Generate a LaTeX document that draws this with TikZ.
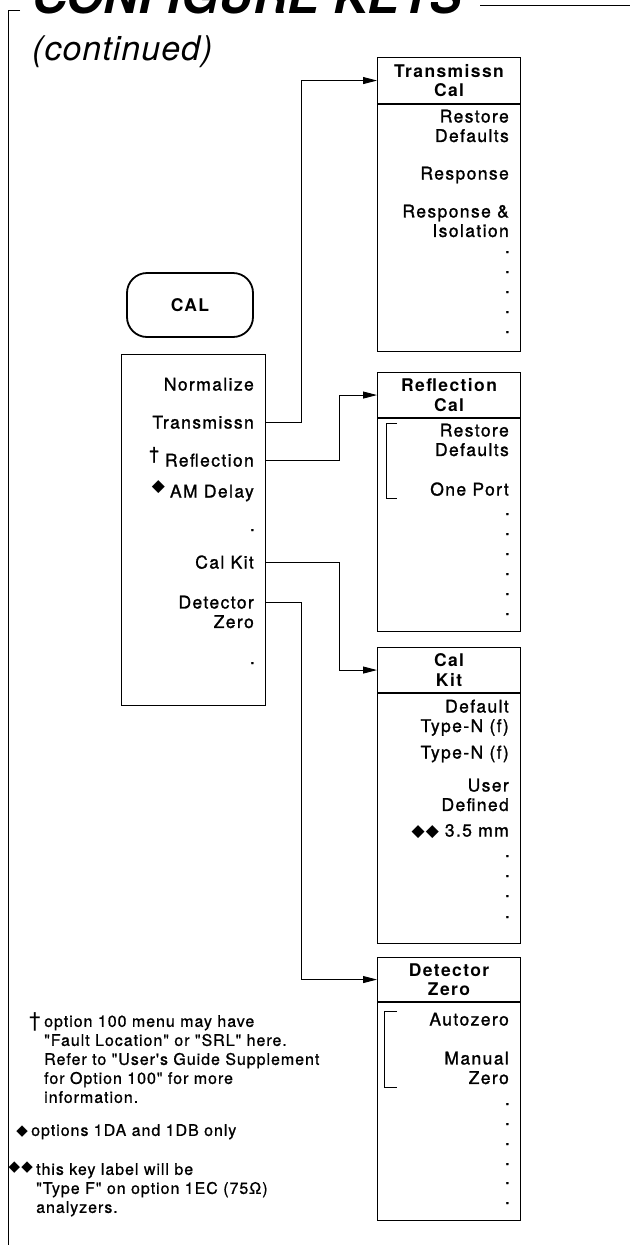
\documentclass[tikz,border=0pt]{standalone}
\usepackage{fontspec}
\setmainfont{TeX Gyre Heros}
\newfontfamily\keyfam{TeX Gyre Heros}[LetterSpace=8, UprightFeatures={FakeBold=1.3}]
\newfontfamily\notefam{TeX Gyre Heros}[LetterSpace=6, UprightFeatures={FakeBold=0.8}]
\newfontfamily\symfam{DejaVu Sans}
\usetikzlibrary{positioning,arrows.meta}
\newcommand\keyfont{\keyfam\fontsize{17.5}{19.5}\selectfont}
\newcommand\notefont{\notefam\fontsize{16}{19}\selectfont}
\newcommand\diam[1][17]{{\symfam\fontsize{#1}{#1}\selectfont ◆}}

\begin{document}
\begin{tikzpicture}[
  x=1pt, y=-1pt,
  menu/.style={draw, line width=1.1pt, inner sep=0pt, minimum width=143pt, anchor=north west},
  head/.style={menu, font=\keyfont\bfseries, align=center},
  key/.style={anchor=base east, inner sep=0pt, font=\keyfont, align=right},
  dotkey/.style={anchor=base east, inner sep=0pt, font=\keyfont},
  note/.style={anchor=north west, inner sep=0pt, font=\notefont, align=left},
  brace/.style={line width=0.8pt},
  arrow/.style={-{Triangle[length=14pt,width=7pt]}, line width=0.9pt}
]
\useasboundingbox (0,0) rectangle (630,1245);

\draw[line width=0.8pt] (20,10) -- (8,10) -- (8,1245);
\draw[line width=1pt] (480,5) -- (630,5);
\node[anchor=base west, inner sep=0pt, font=\fontsize{48}{48}\selectfont\bfseries\itshape] (title) at (32,13) {CONFIGURE KEYS};
\node[anchor=base west, inner sep=0pt, font=\fontsize{34}{34}\selectfont\itshape\addfontfeatures{LetterSpace=3}] (cont) at (32,60) {(continued)};

\node[draw, line width=1.8pt, rounded corners=20pt, minimum width=126pt, minimum height=64pt, font=\keyfont\bfseries] (cal) at (190,305) {CAL};

\node[menu, minimum width=144pt, minimum height=351pt] (main) at (121,354) {};
\node[key] (norm) at (254,390.5) {Normalize};
\node[key] (trans) at (254,428.5) {Transmissn};
\node[key] (refl) at (254,466.5) {\raisebox{7pt}{†}\hspace{6pt}Reflection};
\node[key] (amdelay) at (254,497.5) {\raisebox{6pt}{\diam}\hspace{5pt}AM Delay};
\node[dotkey] (gap) at (255,531) {.};
\node[key] (calkit) at (254,568.5) {Cal Kit};
\node[key, anchor=north east] (detzero) at (254,595.5) {Detector\\Zero};
\node[dotkey] (more) at (255,664) {.};

\node[head, minimum height=46pt] (tcalhd) at (377,57) {Transmissn\\Cal};
\node[menu, minimum height=247pt] (tcal) at (tcalhd.south west) {};
\node[key, anchor=north east] (trestore) at (509,109.5) {Restore\\Defaults};
\node[key] (tresp) at (509,179.5) {Response};
\node[key, anchor=north east] (tiso) at (509,204.5) {Response \&\\Isolation};
\foreach \y in {253,273,293,313,333}
  \node[dotkey] at (510,\y) {.};

\node[head, minimum height=45pt] (rcalhd) at (377,372) {Reflection\\Cal};
\node[menu, minimum height=213pt] (rcal) at (rcalhd.south west) {};
\node[key, anchor=north east] (rrestore) at (509,423.5) {Restore\\Defaults};
\node[key] (oneport) at (509,495.5) {One Port};
\draw[brace] (397,423) -- (386,423) -- (386,498) -- (397,498);
\foreach \y in {515,535,555,575,595,615}
  \node[dotkey] at (510,\y) {.};

\node[head, minimum height=45pt] (kithd) at (377,647) {Cal\\Kit};
\node[menu, minimum height=250pt] (kit) at (kithd.south west) {};
\node[key, anchor=north east] (deftype) at (509,699.5) {Default\\Type-N (f)};
\node[key] (typen) at (509,758.5) {Type-N (f)};
\node[key, anchor=north east] (user) at (509,778.5) {User\\Defined};
\node[key] (mm) at (509,836.5) {\diam\hspace{1pt}\diam\hspace{6pt}3.5 mm};
\foreach \y in {857,877,897,918}
  \node[dotkey] at (510,\y) {.};

\node[head, minimum height=44pt] (dzhd) at (377,957) {Detector\\Zero};
\node[menu, minimum height=218pt] (dz) at (dzhd.south west) {};
\node[key] (auto) at (509,1025.5) {Autozero};
\node[key, anchor=north east] (manual) at (509,1051.5) {Manual\\Zero};
\draw[brace] (397,1011) -- (384,1011) -- (384,1087) -- (397,1087);
\foreach \y in {1105,1125,1145,1165,1184,1204}
  \node[dotkey] at (510,\y) {.};

\draw[arrow] (trans.base -| main.east) ++(0,-6.5) -- ++(35,0) |- (tcalhd.west);
\draw[arrow] (refl.base -| main.east) ++(0,-6.5) -- ++(73,0) |- (rcalhd.west);
\draw[arrow] (calkit.base -| main.east) ++(0,-6.5) -- ++(73,0) |- (kithd.west);
\draw[arrow] (detzero.north -| main.east) ++(0,6.5) -- ++(35,0) |- (dzhd.west);

\node[anchor=north, inner sep=0pt, font=\fontsize{21}{21}\selectfont] (dag) at (35,1012) {†};
\node[note] (fn1) at (44,1015) {option 100 menu may have\\"Fault Location" or "SRL" here.\\Refer to "User's Guide Supplement\\for Option 100" for more\\information.};
\node[note] (fn2) at (31,1124) {options 1DA and 1DB only};
\node[left=3pt of fn2.west, inner sep=0pt] (d1) {\diam[15]};
\node[note] (fn3) at (36,1163) {this key label will be\\"Type F" on option 1EC (75Ω)\\analyzers.};
\node[left=3pt of fn3.north west, anchor=north east, inner sep=0pt, yshift=1pt] (d2) {\diam[15]\hspace{1pt}\diam[15]};
\end{tikzpicture}
\end{document}
